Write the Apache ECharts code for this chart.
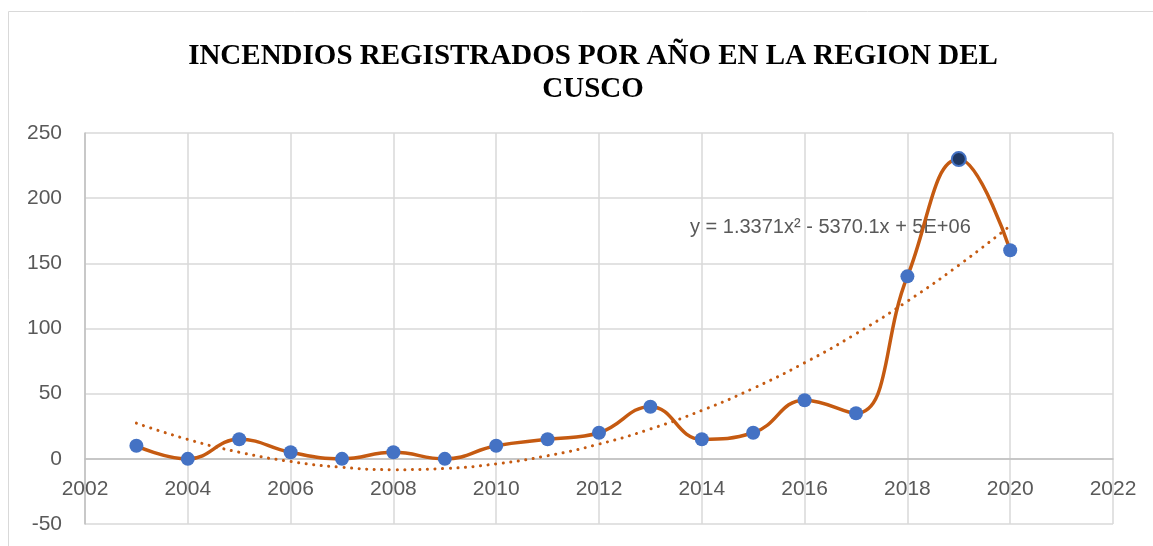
<!DOCTYPE html>
<html>
<head>
<meta charset="utf-8">
<script src="https://cdn.jsdelivr.net/npm/echarts@6/dist/echarts.min.js"></script>
<style>
  html, body { margin: 0; padding: 0; background: #fff; }
  #chart { width: 1153px; height: 546px; }
</style>
</head>
<body>
<div id="chart"></div>
<script>
// datos
const years = [2003, 2004, 2005, 2006, 2007, 2008, 2009, 2010, 2011, 2012, 2013, 2014, 2015, 2016, 2017, 2018, 2019, 2020];
const incendios = [10, 0, 15, 5, 0, 5, 0, 10, 15, 20, 40, 15, 20, 45, 35, 140, 230, 160];
const xTicks = [2002, 2022, 2];
const yTicks = [-50, 250, 50];
const ecuacion = "y = 1.3371x\u00b2 - 5370.1x + 5E+06";

// tendencia polinómica de grado 2 (mínimos cuadrados, x centrado)
const fitPoly2 = (xs, ys) => {
  const n = xs.length;
  const mx = xs.reduce((a, b) => a + b, 0) / n;
  let s1 = 0, s2 = 0, s3 = 0, s4 = 0, t0 = 0, t1 = 0, t2 = 0;
  xs.forEach((x0, i) => {
    const x = x0 - mx, y = ys[i];
    s1 += x; s2 += x * x; s3 += x * x * x; s4 += x * x * x * x;
    t0 += y; t1 += x * y; t2 += x * x * y;
  });
  const m = [[n, s1, s2, t0], [s1, s2, s3, t1], [s2, s3, s4, t2]];
  for (let c = 0; c < 3; c++) {
    for (let r = c + 1; r < 3; r++) {
      const f = m[r][c] / m[c][c];
      for (let k = c; k < 4; k++) m[r][k] -= f * m[c][k];
    }
  }
  const b = [0, 0, 0];
  for (let r = 2; r >= 0; r--) {
    let s = m[r][3];
    for (let k = r + 1; k < 3; k++) s -= m[r][k] * b[k];
    b[r] = s / m[r][r];
  }
  return (x) => b[0] + b[1] * (x - mx) + b[2] * (x - mx) * (x - mx);
};

const trend = fitPoly2(years, incendios);
const trendData = years.map((x) => [x, trend(x)]);
const mainData = years.map((x, i) => ({
  value: [x, incendios[i]],
  itemStyle: x === 2019 ? { color: "#1f3864", borderColor: "#4472c4", borderWidth: 2 } : undefined,
}));

const myChart = echarts.init(document.getElementById("chart"));
const labelFont = { color: "#595959", fontSize: 21, fontFamily: "Liberation Sans" };

const option = {
  animation: false,
  title: {
    text: "INCENDIOS REGISTRADOS POR AÑO EN LA REGION DEL\nCUSCO",
    left: 588,
    top: 35,
    textAlign: "center",
    textStyle: {
      fontFamily: "Liberation Serif",
      fontWeight: "bold",
      fontSize: 29,
      lineHeight: 33,
      color: "#000",
    },
  },
  graphic: [
    {
      type: "rect",
      shape: { x: 8.5, y: 11.5, width: 1200, height: 600 },
      style: { fill: "none", stroke: "#d9d9d9", lineWidth: 1 },
      silent: true,
    },
    {
      type: "text",
      left: 690,
      top: 217,
      style: { text: ecuacion, fill: "#595959", font: "20px 'Liberation Sans'" },
    },
  ],
  grid: { left: 85, right: 40, top: 133, bottom: 22, outerBoundsMode: "none" },
  xAxis: {
    type: "value",
    min: xTicks[0],
    max: xTicks[1],
    interval: xTicks[2],
    axisLine: { onZero: true, lineStyle: { color: "#bfbfbf", width: 1.5 } },
    axisTick: { show: false },
    axisLabel: Object.assign({ margin: -45, formatter: (v) => String(v) }, labelFont),
    splitLine: { show: true, lineStyle: { color: "#d9d9d9", width: 1.5 } },
  },
  yAxis: {
    type: "value",
    min: yTicks[0],
    max: yTicks[1],
    interval: yTicks[2],
    axisLine: { show: true, lineStyle: { color: "#bfbfbf", width: 1.5 } },
    axisTick: { show: false },
    axisLabel: Object.assign({ margin: 23 }, labelFont),
    splitLine: { show: true, lineStyle: { color: "#d9d9d9", width: 1.5 } },
  },
  series: [
    {
      name: "tendencia",
      type: "line",
      data: trendData,
      smooth: true,
      showSymbol: false,
      lineStyle: { color: "#c55a11", width: 3, type: [0.1, 7.5], cap: "round" },
      z: 2,
    },
    {
      name: "incendios",
      type: "line",
      data: mainData,
      smooth: 0.45,
      symbol: "circle",
      symbolSize: 14,
      itemStyle: { color: "#4472c4" },
      lineStyle: { color: "#c55a11", width: 3.5 },
      z: 3,
    },
  ],
};

myChart.setOption(option);
window.onresize = function () {
  myChart.resize();
};
</script>
</body>
</html>
